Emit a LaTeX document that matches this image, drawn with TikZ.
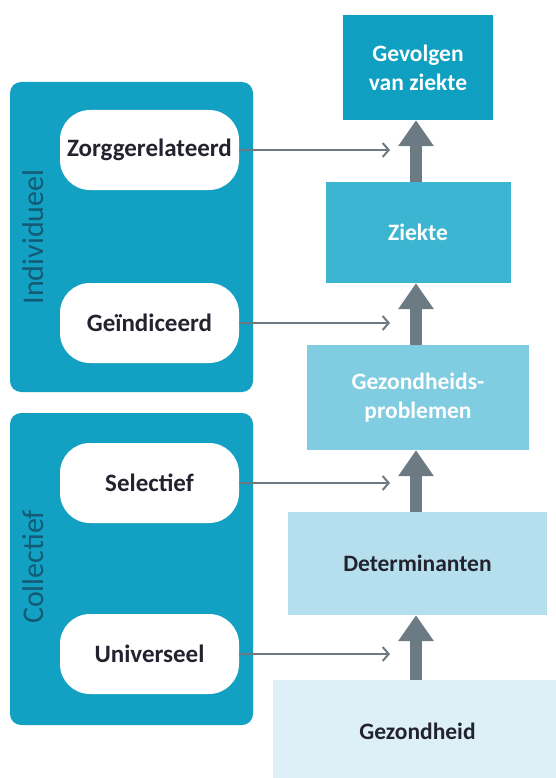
\documentclass[tikz,border=0pt]{standalone}
\usepackage{fontspec}
\setmainfont{Carlito}
\usetikzlibrary{arrows.meta}
\definecolor{tealdark}{HTML}{12A1C2}
\definecolor{tealA}{HTML}{0F9FC0}
\definecolor{tealB}{HTML}{3BB5D2}
\definecolor{tealC}{HTML}{80CCE0}
\definecolor{tealD}{HTML}{B5DFEC}
\definecolor{tealE}{HTML}{DDF0F7}
\definecolor{arrowgray}{HTML}{6C7A84}
\definecolor{textdark}{HTML}{23232F}
\definecolor{labelteal}{HTML}{135B75}
\tikzset{
  group/.style={fill=tealdark, rounded corners=11pt, inner sep=0pt},
  pill/.style={fill=white, rounded corners=30pt, minimum width=179pt, minimum height=80pt,
    inner sep=0pt, font=\fontsize{25}{29}\selectfont\bfseries, text=textdark},
  stage/.style={inner sep=0pt, align=center, font=\fontsize{23.5}{29}\selectfont\bfseries},
  grouplabel/.style={rotate=90, font=\fontsize{30}{34}\selectfont, text=labelteal},
  feed/.style={draw=arrowgray, line width=2pt, -{Straight Barb[length=6pt,width=14pt,line width=2pt]}},
  rise/.style={draw=arrowgray, line width=12pt, -{Triangle[length=26pt,width=34pt]}}
}
\begin{document}
\begin{tikzpicture}[x=1pt,y=-1pt]
\useasboundingbox (0,0) rectangle (556,778);
% left groups
\node[group, minimum width=243pt, minimum height=310pt] (indiv) at (131.5,237) {};
\node[group, minimum width=243pt, minimum height=312pt] (collect) at (131.5,569) {};
\node[grouplabel] (indivlab) at (33,237) {Individueel};
\node[grouplabel] (collectlab) at (33,567) {Collectief};
% prevention types
\node[pill] (zorg) at (149.5,150) {Zorggerelateerd};
\node[pill] (geind) at (149.5,323) {Geïndiceerd};
\node[pill] (select) at (149.5,483) {Selectief};
\node[pill] (univ) at (149.5,654) {Universeel};
% stages
\node[stage, fill=tealA, text=white, minimum width=150pt, minimum height=105pt] (gevolgen) at (418,67.5) {Gevolgen\\van ziekte};
\node[stage, fill=tealB, text=white, minimum width=185pt, minimum height=101pt] (ziekte) at (418,232.5) {Ziekte};
\node[stage, fill=tealC, text=white, minimum width=222pt, minimum height=105pt] (gezprob) at (418,397.5) {Gezondheids-\\problemen};
\node[stage, fill=tealD, text=textdark, minimum width=259pt, minimum height=103pt] (determ) at (417.5,563.5) {Determinanten};
\node[stage, fill=tealE, text=textdark, minimum width=283pt, minimum height=98pt] (gezond) at (414.5,729) {};
\node[stage, text=textdark] (gezondtxt) at (417.5,731) {Gezondheid};
% arrow end points
\coordinate (t1) at (390,150);
\coordinate (t2) at (390,323);
\coordinate (t3) at (390,483);
\coordinate (t4) at (390,654);
\draw[feed] (zorg.east) -- (t1);
\draw[feed] (geind.east) -- (t2);
\draw[feed] (select.east) -- (t3);
\draw[feed] (univ.east) -- (t4);
% upward progression
\draw[rise] (ziekte.north -| 416,0) -- (gevolgen.south -| 416,0);
\draw[rise] (gezprob.north -| 416,0) -- (ziekte.south -| 416,0);
\draw[rise] (determ.north -| 416,0) -- (gezprob.south -| 416,0);
\draw[rise] (gezond.north -| 416,0) -- (determ.south -| 416,0);
\end{tikzpicture}
\end{document}
